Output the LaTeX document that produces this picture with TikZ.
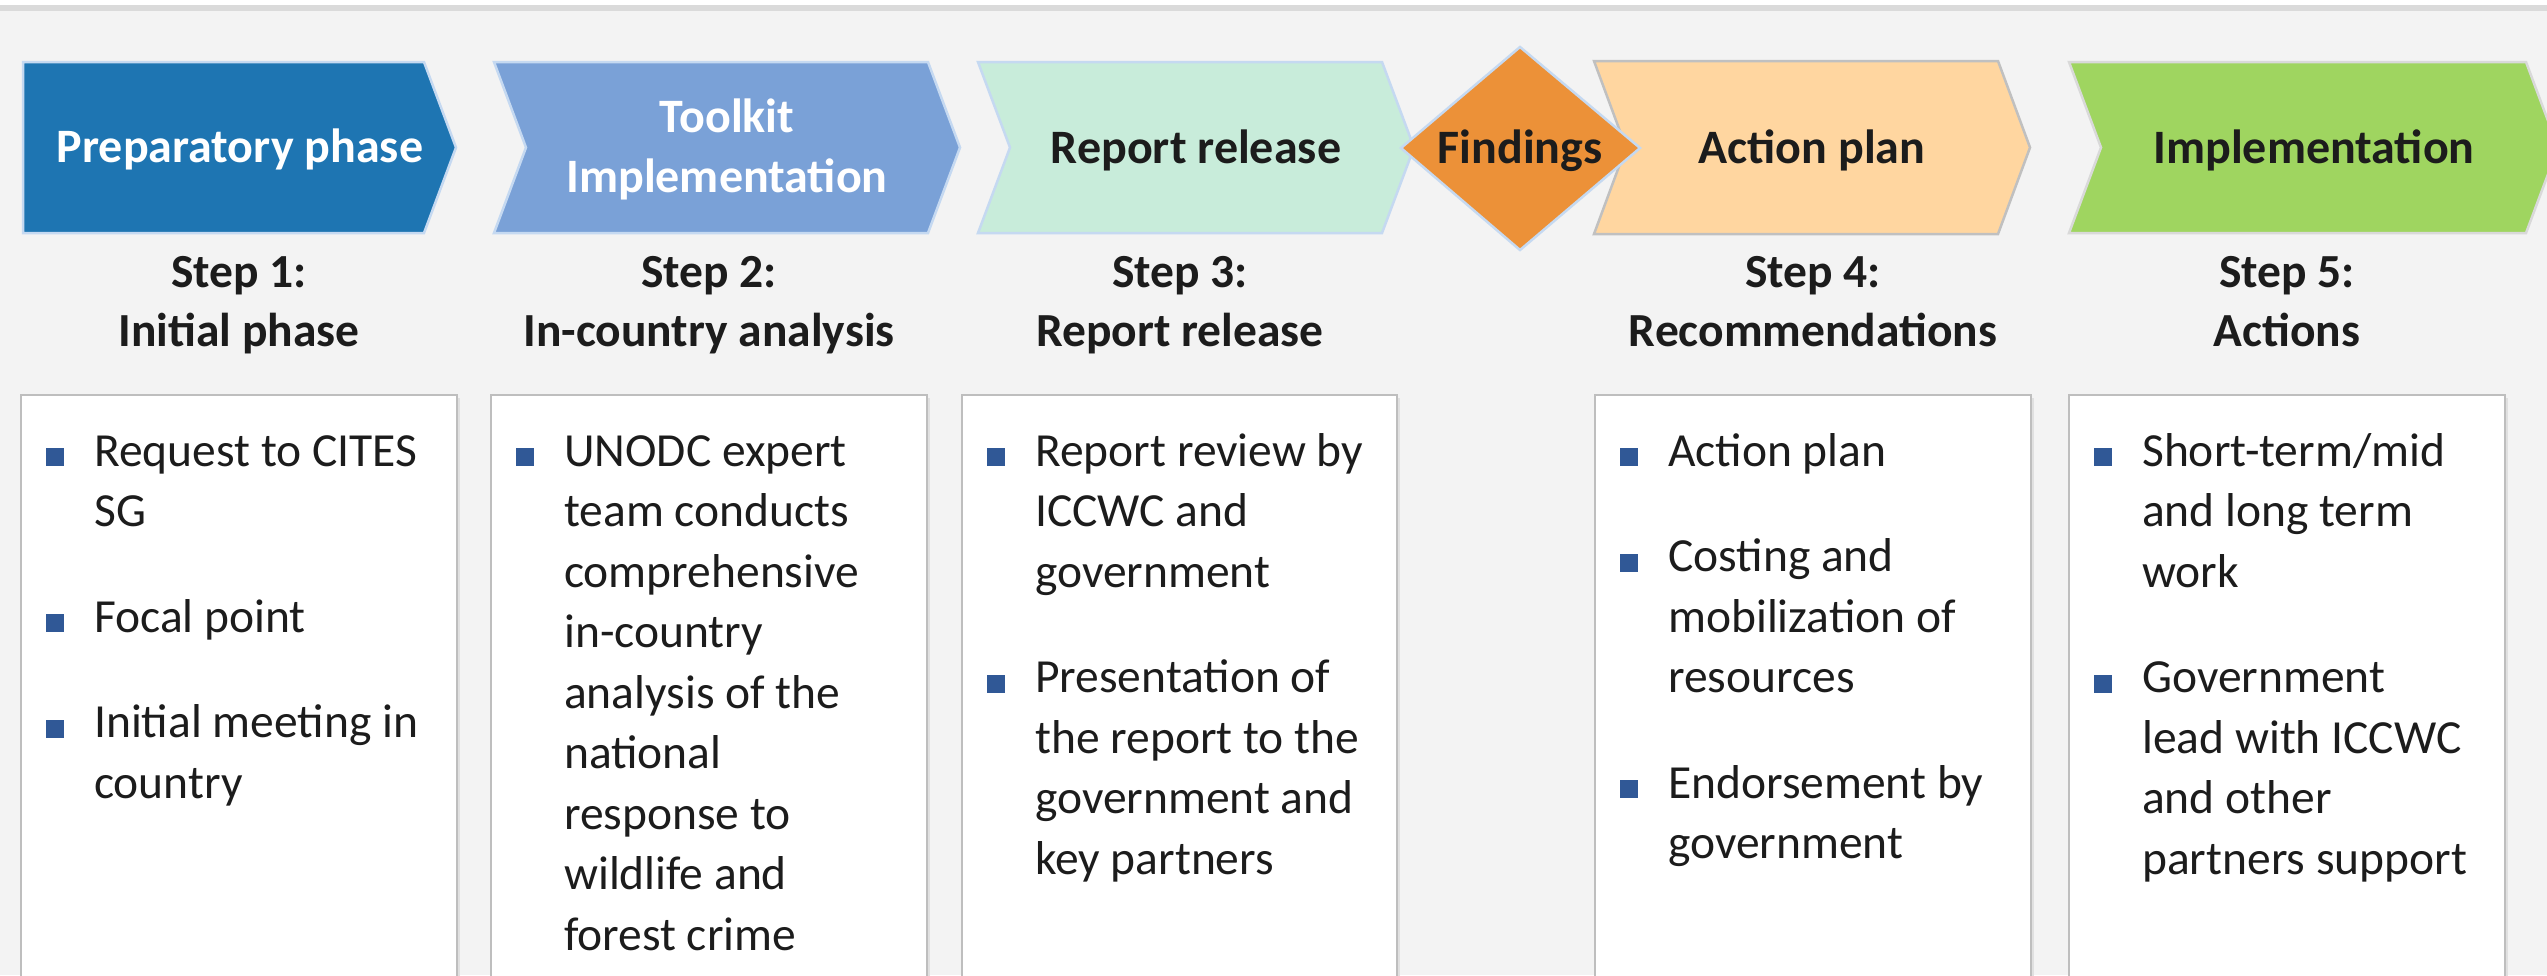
\documentclass[tikz,border=0pt]{standalone}
\usepackage{fontspec}
\setmainfont{Carlito}
\definecolor{pagebg}{RGB}{243,243,243}
\definecolor{topline}{RGB}{218,218,218}
\definecolor{prepblue}{RGB}{30,117,178}
\definecolor{toolblue}{RGB}{122,161,215}
\definecolor{mint}{RGB}{200,236,218}
\definecolor{findorange}{RGB}{236,145,56}
\definecolor{peach}{RGB}{255,214,160}
\definecolor{leafgreen}{RGB}{159,213,96}
\definecolor{edgeblue}{RGB}{197,217,241}
\definecolor{edgegray}{RGB}{192,192,192}
\definecolor{panelline}{RGB}{190,190,190}
\definecolor{txtdark}{RGB}{28,28,28}
\definecolor{bulletblue}{RGB}{48,88,150}
% stacked lines whose reference point is the first baseline
\newcommand{\linesat}[1]{\begin{tabular}[t]{@{}c@{}}#1\end{tabular}}
\newcommand{\sq}{\textcolor{bulletblue}{\rule{18pt}{18pt}}}
\newcommand{\bulletlist}[1]{\begin{tabular}[t]{@{}l@{\hspace{30pt}}l@{}}#1\end{tabular}}
\begin{document}
\begin{tikzpicture}[x=1pt,y=-1pt,
  headtxt/.style={font=\bfseries\fontsize{48}{60}\selectfont, anchor=base, inner sep=0pt},
  steptxt/.style={font=\bfseries\fontsize{47.5}{59}\selectfont, anchor=base, inner sep=0pt, text=txtdark},
  panel/.style={draw=panelline, line width=2pt, fill=white},
  items/.style={font=\fontsize{47.5}{60.5}\selectfont, anchor=base west, inner sep=0pt, text=txtdark},
  chevblue/.style={draw=edgeblue, line width=2.5pt, line join=miter},
  chevgray/.style={draw=edgegray, line width=2.5pt, line join=miter},
]
\useasboundingbox (0,0) rectangle (2547,975);
\clip (0,0) rectangle (2547,975);

% page background and top rule
\fill[white] (0,0) rectangle (2547,975);
\fill[pagebg] (0,5) rectangle (2547,975);
\fill[topline] (0,5) rectangle (2547,11);

% phase chevrons
\path[chevblue, fill=prepblue] (23,62) -- (424,62) -- (456,147.5) -- (424,233) -- (23,233) -- cycle;
\path[chevblue, fill=toolblue] (494,62) -- (928,62) -- (960,147.5) -- (928,233) -- (494,233) -- (526,147.5) -- cycle;
\path[chevblue, fill=mint] (978,62) -- (1382,62) -- (1414,147.5) -- (1382,233) -- (978,233) -- (1010,147.5) -- cycle;
\path[chevgray, fill=peach] (1594,61) -- (1998,61) -- (2030,147.5) -- (1998,234) -- (1594,234) -- (1626,147.5) -- cycle;
\path[chevgray, draw=edgegray!60, fill=leafgreen] (2069,62) -- (2526,62) -- (2558,147.5) -- (2526,233) -- (2069,233) -- (2101,147.5) -- cycle;
% findings diamond
\path[chevblue, fill=findorange] (1520,47) -- (1640,148) -- (1520,250) -- (1401,148) -- cycle;

\node[headtxt, text=white] (prep) at (240,162) {Preparatory phase};
\node[headtxt, text=white] (tool) at (727,132) {\linesat{Toolkit\\Implementation}};
\node[headtxt, text=txtdark] (rel) at (1196,163) {Report release};
\node[headtxt, text=txtdark] (find) at (1520,163) {Findings};
\node[headtxt, text=txtdark] (plan) at (1812,163) {Action plan};
\node[headtxt, text=txtdark] (impl) at (2314,163) {Implementation};

% step captions
\node[steptxt] (s1) at (239,287) {\linesat{Step 1:\\Initial phase}};
\node[steptxt] (s2) at (709,287) {\linesat{Step 2:\\In-country analysis}};
\node[steptxt] (s3) at (1180,287) {\linesat{Step 3:\\Report release}};
\node[steptxt] (s4) at (1813,287) {\linesat{Step 4:\\Recommendations}};
\node[steptxt] (s5) at (2287,287) {\linesat{Step 5:\\Actions}};

% detail panels
\foreach \l/\r in {21/457, 491/927, 962/1397, 1595/2031, 2069/2505}{
  \fill[black!12] (\l+3,398) rectangle (\r+3,1000);
  \path[panel] (\l,395) rectangle (\r,1000);
}

\node[items] (p1) at (46,466) {\bulletlist{%
  \sq & Request to CITES\\ & SG\\[45pt]
  \sq & Focal point\\[45pt]
  \sq & Initial meeting in\\ & country}};
\node[items] (p2) at (516,466) {\bulletlist{%
  \sq & UNODC expert\\ & team conducts\\ & comprehensive\\ & in-country\\
      & analysis of the\\ & national\\ & response to\\ & wildlife and\\ & forest crime}};
\node[items] (p3) at (987,466) {\bulletlist{%
  \sq & Report review by\\ & ICCWC and\\ & government\\[45pt]
  \sq & Presentation of\\ & the report to the\\ & government and\\ & key partners}};
\node[items] (p4) at (1620,466) {\bulletlist{%
  \sq & Action plan\\[45pt]
  \sq & Costing and\\ & mobilization of\\ & resources\\[45pt]
  \sq & Endorsement by\\ & government}};
\node[items] (p5) at (2094,466) {\bulletlist{%
  \sq & Short-term/mid\\ & and long term\\ & work\\[45pt]
  \sq & Government\\ & lead with ICCWC\\ & and other\\ & partners support}};
\end{tikzpicture}
\end{document}
